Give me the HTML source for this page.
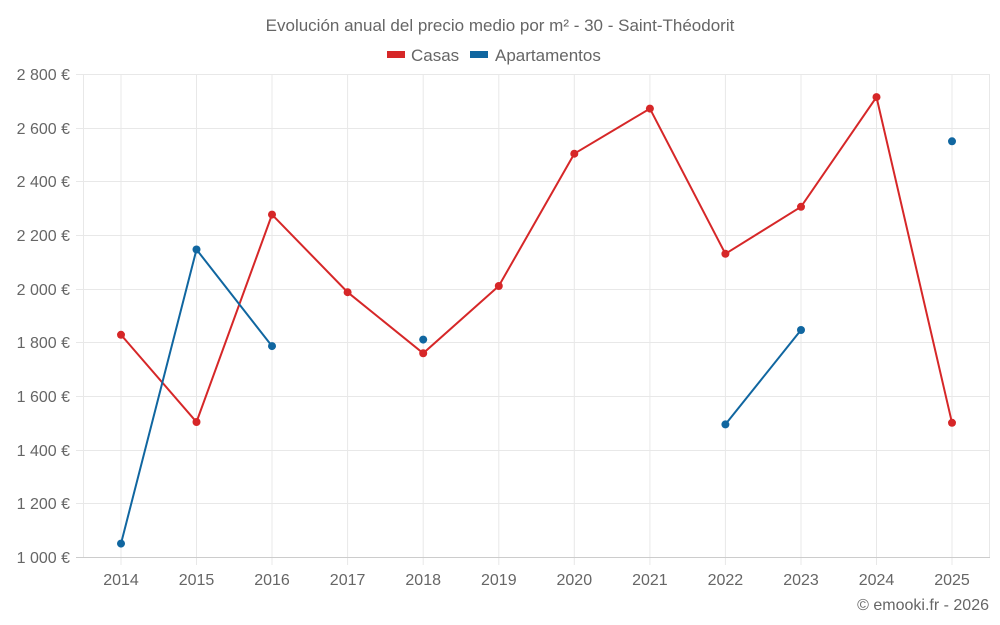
<!DOCTYPE html>
<html><head><meta charset="utf-8"><style>
html,body{margin:0;padding:0;background:#fff;}
svg{display:block;font-family:"Liberation Sans",sans-serif;}
</style></head><body>
<svg width="1000" height="625" viewBox="0 0 1000 625">
<rect width="1000" height="625" fill="#fff"/>
<text x="500" y="31" text-anchor="middle" font-size="17" fill="#666">Evolución anual del precio medio por m² - 30 - Saint-Théodorit</text>
<rect x="387" y="51" width="18" height="7" fill="#d62728"/>
<text x="411" y="61" font-size="17" fill="#666">Casas</text>
<rect x="470" y="51" width="18" height="7" fill="#1066a0"/>
<text x="495" y="61" font-size="17" fill="#666">Apartamentos</text>
<g stroke="#e8e8e8" stroke-width="1">
<line x1="76" x2="990" y1="74.5" y2="74.5"/>
<line x1="76" x2="990" y1="128.5" y2="128.5"/>
<line x1="76" x2="990" y1="181.5" y2="181.5"/>
<line x1="76" x2="990" y1="235.5" y2="235.5"/>
<line x1="76" x2="990" y1="289.5" y2="289.5"/>
<line x1="76" x2="990" y1="342.5" y2="342.5"/>
<line x1="76" x2="990" y1="396.5" y2="396.5"/>
<line x1="76" x2="990" y1="450.5" y2="450.5"/>
<line x1="76" x2="990" y1="503.5" y2="503.5"/>
<line x1="83.5" x2="83.5" y1="74" y2="557"/>
<line x1="989.5" x2="989.5" y1="74" y2="557"/>
<line x1="121" x2="121" y1="74" y2="565"/>
<line x1="196.5" x2="196.5" y1="74" y2="565"/>
<line x1="272" x2="272" y1="74" y2="565"/>
<line x1="347.6" x2="347.6" y1="74" y2="565"/>
<line x1="423.2" x2="423.2" y1="74" y2="565"/>
<line x1="498.8" x2="498.8" y1="74" y2="565"/>
<line x1="574.3" x2="574.3" y1="74" y2="565"/>
<line x1="649.9" x2="649.9" y1="74" y2="565"/>
<line x1="725.4" x2="725.4" y1="74" y2="565"/>
<line x1="801" x2="801" y1="74" y2="565"/>
<line x1="876.5" x2="876.5" y1="74" y2="565"/>
<line x1="952" x2="952" y1="74" y2="565"/>
</g>
<line x1="76" x2="990" y1="557.5" y2="557.5" stroke="#ccc"/>
<g font-size="16" fill="#666" text-anchor="end">
<text x="70" y="80">2 800 €</text>
<text x="70" y="134">2 600 €</text>
<text x="70" y="187">2 400 €</text>
<text x="70" y="241">2 200 €</text>
<text x="70" y="295">2 000 €</text>
<text x="70" y="348">1 800 €</text>
<text x="70" y="402">1 600 €</text>
<text x="70" y="456">1 400 €</text>
<text x="70" y="509">1 200 €</text>
<text x="70" y="563">1 000 €</text>
</g>
<g font-size="16" fill="#666" text-anchor="middle">
<text x="121" y="585">2014</text><text x="196.5" y="585">2015</text><text x="272" y="585">2016</text>
<text x="347.6" y="585">2017</text><text x="423.2" y="585">2018</text><text x="498.8" y="585">2019</text>
<text x="574.3" y="585">2020</text><text x="649.9" y="585">2021</text><text x="725.4" y="585">2022</text>
<text x="801" y="585">2023</text><text x="876.5" y="585">2024</text><text x="952" y="585">2025</text>
</g>
<text x="989" y="610" font-size="16" fill="#666" text-anchor="end">© emooki.fr - 2026</text>
<polyline fill="none" stroke="#d62728" stroke-width="2" points="121,334.8 196.5,422 272,214.6 347.6,292.2 423.2,353.3 498.8,286 574.3,153.7 649.9,108.6 725.4,253.8 801,206.8 876.5,97.1 952,422.8"/>
<g fill="#d62728">
<circle cx="121" cy="334.8" r="4"/><circle cx="196.5" cy="422" r="4"/><circle cx="272" cy="214.6" r="4"/>
<circle cx="347.6" cy="292.2" r="4"/><circle cx="423.2" cy="353.3" r="4"/><circle cx="498.8" cy="286" r="4"/>
<circle cx="574.3" cy="153.7" r="4"/><circle cx="649.9" cy="108.6" r="4"/><circle cx="725.4" cy="253.8" r="4"/>
<circle cx="801" cy="206.8" r="4"/><circle cx="876.5" cy="97.1" r="4"/><circle cx="952" cy="422.8" r="4"/>
</g>
<polyline fill="none" stroke="#1066a0" stroke-width="2" points="121,543.6 196.5,249.5 272,346.1"/>
<polyline fill="none" stroke="#1066a0" stroke-width="2" points="725.4,424.4 801,330"/>
<g fill="#1066a0">
<circle cx="121" cy="543.6" r="4"/><circle cx="196.5" cy="249.5" r="4"/><circle cx="272" cy="346.1" r="4"/>
<circle cx="423.2" cy="339.6" r="4"/><circle cx="725.4" cy="424.4" r="4"/><circle cx="801" cy="330" r="4"/>
<circle cx="952" cy="141.3" r="4"/>
</g>
</svg>
</body></html>
